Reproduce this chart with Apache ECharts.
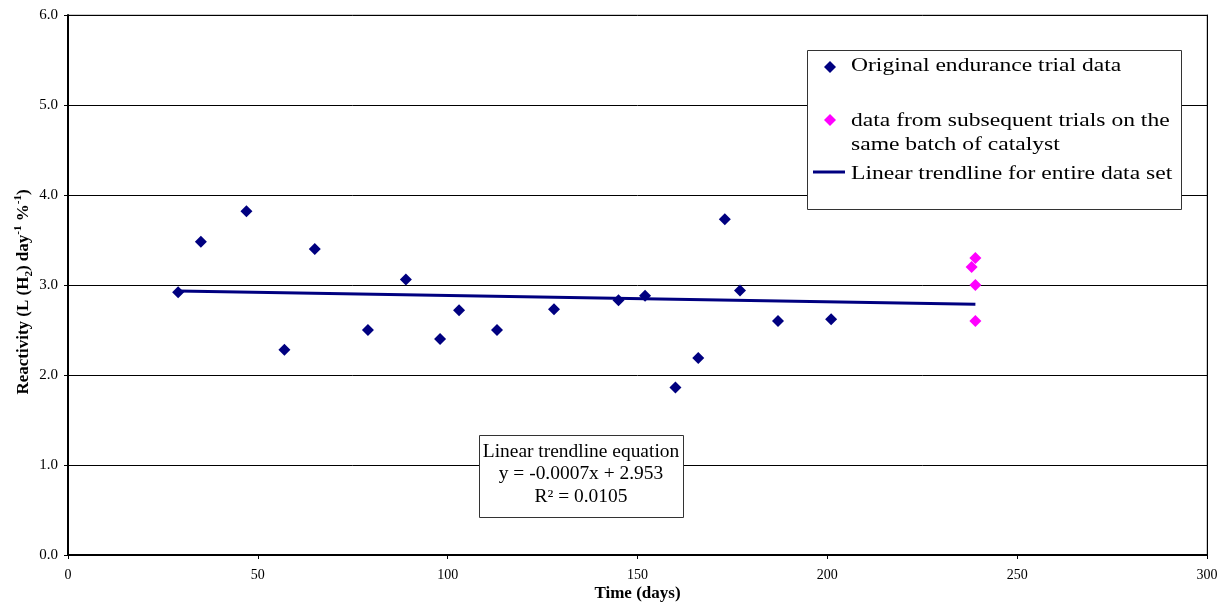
<!DOCTYPE html>
<html>
<head>
    <meta charset="UTF-8">
    <title>Reactivity vs time</title>
    <script src="https://cdn.jsdelivr.net/npm/echarts@6/dist/echarts.min.js"></script>
</head>
<body style="margin:0;background:#fff;">
<div id="main" style="width: 1221px;height:602px;"></div>
<script type="text/javascript">
    // original endurance trial
    var origDays = [29, 35, 47, 57, 65, 79, 89, 98, 103, 113, 128, 145, 152, 160, 166, 173, 177, 187, 201];
    var origReact = [2.92, 3.48, 3.82, 2.28, 3.40, 2.50, 3.06, 2.40, 2.72, 2.50, 2.73, 2.83, 2.88, 1.86, 2.19, 3.73, 2.94, 2.60, 2.62];
    // subsequent trials, same batch
    var laterDays = [239, 238, 239, 239];
    var laterReact = [3.30, 3.20, 3.00, 2.60];
    // trendline end points
    var trendDays = [29, 239];
    var trendReact = [2.933, 2.786];
    var yTicks = [0, 1, 2, 3, 4, 5, 6];

    function pairs(xs, ys) {
        var out = [];
        for (var i = 0; i < xs.length; i++) out.push([xs[i], ys[i]]);
        return out;
    }

    var serif = 'Liberation Serif, Times New Roman, serif';
    // reference text is letter-spaced, stretch it a bit
    var wide = 1.24;

    echarts.init(document.getElementById('main')).setOption({
        backgroundColor: '#fff',
        animation: false,
        grid: {left: 68, right: 14, top: 15, bottom: 47, outerBoundsMode: 'none',
            show: true, borderColor: '#999', borderWidth: 1},
        xAxis: {
            type: 'value', min: 0, max: 300, interval: 50,
            name: 'Time (days)', nameLocation: 'middle', nameGap: 30, nameMoveOverlap: false,
            nameTextStyle: {fontFamily: serif, fontWeight: 'bold', fontSize: 17, color: '#000'},
            axisLine: {lineStyle: {color: '#000', width: 2}},
            axisTick: {show: true, length: 4, lineStyle: {color: '#000'}},
            axisLabel: {fontFamily: serif, fontSize: 14, color: '#000', margin: 13},
            splitLine: {show: false}
        },
        yAxis: [{
            type: 'value', min: yTicks[0], max: yTicks[yTicks.length - 1], interval: 1,
            name: '{b|Reactivity (L (H}{s|2}{b|) day}{p|-1}{b| %}{p|-1}{b|)}',
            nameLocation: 'middle', nameGap: 33, nameMoveOverlap: false,
            nameTextStyle: {
                color: '#000',
                padding: [0, 14, 0, 0],
                rich: {
                    b: {fontFamily: serif, fontWeight: 'bold', fontSize: 17, lineHeight: 22, verticalAlign: 'middle'},
                    s: {fontFamily: serif, fontWeight: 'bold', fontSize: 11, lineHeight: 22, verticalAlign: 'bottom'},
                    p: {fontFamily: serif, fontWeight: 'bold', fontSize: 11, lineHeight: 22, verticalAlign: 'top'}
                }
            },
            axisLine: {show: true, lineStyle: {color: '#000', width: 2}},
            axisTick: {show: true, length: 4, lineStyle: {color: '#000'}},
            axisLabel: {
                fontFamily: serif, fontSize: 15, color: '#000', margin: 10,
                formatter: function (v) { return v.toFixed(1); }
            },
            splitLine: {show: true, lineStyle: {color: '#000', width: 1}}
        }, {
            // right frame edge only
            type: 'value', position: 'right', min: 0, max: 6, interval: 1,
            axisLine: {show: true, lineStyle: {color: '#000', width: 1}},
            axisTick: {show: false}, axisLabel: {show: false}, splitLine: {show: false}
        }],
        series: [
            {
                name: 'Linear trendline for entire data set',
                type: 'line',
                data: pairs(trendDays, trendReact),
                symbol: 'none',
                lineStyle: {color: '#000080', width: 3},
                z: 2
            },
            {
                name: 'Original endurance trial data',
                type: 'scatter',
                data: pairs(origDays, origReact),
                symbol: 'diamond',
                symbolSize: 12,
                itemStyle: {color: '#000080', opacity: 1},
                z: 3
            },
            {
                name: 'data from subsequent trials on the same batch of catalyst',
                type: 'scatter',
                data: pairs(laterDays, laterReact),
                symbol: 'diamond',
                symbolSize: 12,
                itemStyle: {color: '#ff00ff', opacity: 1},
                z: 3
            }
        ],
        graphic: [
            // legend box
            {type: 'rect', left: 807, top: 50, shape: {width: 374, height: 159},
                style: {fill: '#fff', stroke: '#333', lineWidth: 1}, z: 10},
            {type: 'polygon', shape: {points: [[830, 61], [836, 67], [830, 73], [824, 67]]},
                style: {fill: '#000080'}, z: 11},
            {type: 'text', x: 851, y: 57, scaleX: wide,
                style: {text: 'Original endurance trial data', font: '19px ' + serif, fill: '#000'}, z: 11},
            {type: 'polygon', shape: {points: [[830, 114], [836, 120], [830, 126], [824, 120]]},
                style: {fill: '#ff00ff'}, z: 11},
            {type: 'text', x: 851, y: 109, scaleX: wide,
                style: {text: 'data from subsequent trials on the\nsame batch of catalyst',
                    font: '19px ' + serif, lineHeight: 24, fill: '#000'}, z: 11},
            {type: 'line', shape: {x1: 813, y1: 172, x2: 845, y2: 172},
                style: {stroke: '#000080', lineWidth: 3}, z: 11},
            {type: 'text', x: 851, y: 165, scaleX: wide,
                style: {text: 'Linear trendline for entire data set', font: '19px ' + serif, fill: '#000'}, z: 11},
            // equation box
            {type: 'rect', left: 479, top: 435, shape: {width: 204, height: 82},
                style: {fill: '#fff', stroke: '#333', lineWidth: 1}, z: 10},
            {type: 'text', x: 581, y: 441, scaleX: 1.08,
                style: {text: 'Linear trendline equation\ny = -0.0007x + 2.953\nR\u00b2 = 0.0105',
                    font: '18px ' + serif, lineHeight: 22.5, fill: '#000', align: 'center'}, z: 11}
        ]
    });
</script>
</body>
</html>
